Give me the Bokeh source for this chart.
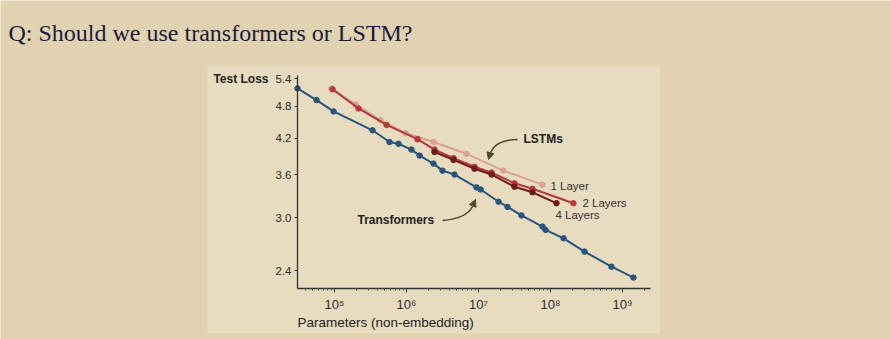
import math
from bokeh.plotting import figure
from bokeh.models import (ColumnDataSource, FixedTicker, Label, BoxAnnotation,
                          Arrow, NormalHead, Range1d)
from bokeh.embed import file_html
from bokeh.resources import INLINE

# ---------------- data ----------------
title_text = "Q: Should we use transformers or LSTM?"
y_label = "Test Loss"
x_label = "Parameters (non-embedding)"

x_tick_values = [1e5, 1e6, 1e7, 1e8, 1e9]
x_tick_labels = ["10\u2075", "10\u2076", "10\u2077", "10\u2078", "10\u2079"]
y_tick_values = [2.4, 3.0, 3.6, 4.2, 4.8, 5.4]
y_tick_labels = ["2.4", "3.0", "3.6", "4.2", "4.8", "5.4"]

transformer_params = [3.06e4, 5.62e4, 9.7e4, 3.37e5, 5.8e5, 7.74e5, 1.17e6, 1.52e6,
                      2.37e6, 3.16e6, 4.64e6, 9.38e6, 1.07e7, 1.90e7, 2.53e7, 3.95e7,
                      7.74e7, 8.53e7, 1.52e8, 2.97e8, 7.03e8, 1.42e9]
transformer_loss = [5.18, 4.93, 4.70, 4.34, 4.13, 4.10, 4.00, 3.90,
                    3.77, 3.66, 3.60, 3.41, 3.38, 3.21, 3.14, 3.03,
                    2.89, 2.85, 2.75, 2.60, 2.44, 2.33]

lstm1_params = [9.1e4, 1.96e5, 4.35e5, 9.7e5, 2.37e6, 6.81e6, 2.22e7, 7.74e7]
lstm1_loss = [5.18, 4.84, 4.53, 4.29, 4.13, 3.93, 3.66, 3.45]

lstm2_params = [9.38e4, 2.15e5, 5.28e5, 1.42e6, 2.45e6, 4.50e6, 8.80e6, 1.52e7,
                3.16e7, 5.62e7, 2.08e8]
lstm2_loss = [5.16, 4.76, 4.44, 4.18, 4.00, 3.86, 3.72, 3.63, 3.47, 3.39, 3.19]

lstm4_params = [2.45e6, 4.50e6, 8.80e6, 1.52e7, 3.16e7, 5.62e7, 1.21e8]
lstm4_loss = [3.96, 3.83, 3.69, 3.60, 3.42, 3.34, 3.19]

series_names = ["Transformers", "1 Layer", "2 Layers", "4 Layers"]

# ---------------- style ----------------
OUTER_BG = "#e1d3b2"
INNER_BG = "#e7dbc0"
BLUE = "#27567c"
PINK = "#d8a297"
RED = "#b5393a"
DARK = "#6c1a1e"
TEXT = "#2a2a2a"
ARROW_C = "#4d4a30"
SANS = "Liberation Sans"

W, H = 891, 339
AL, AR, AT, AB = 297, 650, 75, 288  # axes box in canvas pixels

# data extent of the axes box
x_lo, x_hi = 3.06e4, 2.45e9
y_lo, y_hi = 2.225, 5.47

# extend ranges so that the plotting frame fills the whole canvas
lxlo, lxhi = math.log10(x_lo), math.log10(x_hi)
lylo, lyhi = math.log10(y_lo), math.log10(y_hi)
dpx = (lxhi - lxlo) / (AR - AL)
dpy = (lyhi - lylo) / (AB - AT)
X0, X1 = 10 ** (lxlo - AL * dpx), 10 ** (lxhi + (W - AR) * dpx)
Y0, Y1 = 10 ** (lylo - (H - AB) * dpy), 10 ** (lyhi + AT * dpy)


def to_data(sx, sy):
    """canvas pixel -> data coordinates (for annotation placement)"""
    return 10 ** (lxlo + (sx - AL) * dpx), 10 ** (lylo + (AB - sy) * dpy)


p = figure(width=W, height=H, x_axis_type="log", y_axis_type="log",
           x_range=Range1d(X0, X1), y_range=Range1d(Y0, Y1),
           output_backend="svg", toolbar_location=None, min_border=0)
p.background_fill_color = OUTER_BG
p.border_fill_color = OUTER_BG
p.outline_line_color = None
p.grid.visible = False

# lighter panel behind the chart
bl, bt = to_data(207, 65)
br, bb = to_data(660, 333)
p.add_layout(BoxAnnotation(left=bl, right=br, top=bt, bottom=bb,
                           fill_color=INNER_BG, fill_alpha=1.0, line_color=None,
                           level="underlay"))

# axes, pinned inside the frame
xa = p.xaxis[0]
xa.fixed_location = y_lo
xa.bounds = (x_lo, x_hi)
xa.ticker = FixedTicker(ticks=x_tick_values,
                        minor_ticks=[m * 10 ** e for e in range(4, 10) for m in range(2, 10)
                                     if x_lo < m * 10 ** e < x_hi])
xa.major_label_overrides = {v: l for v, l in zip(x_tick_values, x_tick_labels)}
xa.major_label_text_font = SANS
xa.major_label_text_font_size = "13px"
xa.major_label_text_color = TEXT
xa.major_label_standoff = 4
xa.axis_line_color = "#333333"
xa.axis_line_width = 1.3
xa.major_tick_line_color = "#333333"
xa.major_tick_in = 0
xa.major_tick_out = 4
xa.minor_tick_line_color = "#555555"
xa.minor_tick_in = 0
xa.minor_tick_out = 2

ya = p.yaxis[0]
ya.fixed_location = x_lo
ya.bounds = (y_lo, y_hi)
ya.ticker = FixedTicker(ticks=y_tick_values, minor_ticks=[])
ya.major_label_overrides = {v: l for v, l in zip(y_tick_values, y_tick_labels)}
ya.major_label_text_font = SANS
ya.major_label_text_font_size = "11.5px"
ya.major_label_text_color = TEXT
ya.major_label_standoff = 3
ya.axis_line_color = "#333333"
ya.axis_line_width = 1.3
ya.major_tick_line_color = "#333333"
ya.major_tick_in = 0
ya.major_tick_out = 3
ya.minor_tick_line_color = None

# series
series = [
    (transformer_params, transformer_loss, BLUE),
    (lstm1_params, lstm1_loss, PINK),
    (lstm2_params, lstm2_loss, RED),
    (lstm4_params, lstm4_loss, DARK),
]
for (xs, ys, c), name in zip(series, series_names):
    src = ColumnDataSource(dict(x=xs, y=ys))
    p.line("x", "y", source=src, line_color=c, line_width=2)
    p.scatter("x", "y", source=src, marker="circle", size=5.5,
              fill_color=c, line_color=c)

# series labels next to the LSTM line ends
end_labels = [("1 Layer", lstm1_params[-1], lstm1_loss[-1], 8, -1),
              ("2 Layers", lstm2_params[-1], lstm2_loss[-1], 9, 0),
              ("4 Layers", lstm4_params[-1], lstm4_loss[-1], -1, -12)]
for txt, x, y, dx, dy in end_labels:
    p.add_layout(Label(x=x, y=y, x_offset=dx, y_offset=dy, text=txt,
                       text_font=SANS, text_font_size="11.5px", text_color="#333333",
                       text_baseline="middle", text_align="left"))

# group labels with curved arrows
lx, ly = to_data(523, 138)
p.add_layout(Label(x=lx, y=ly, text="LSTMs", text_font=SANS, text_font_size="12px",
                   text_font_style="bold", text_color="#222222",
                   text_baseline="middle", text_align="left"))
tx, ty = to_data(357, 219)
p.add_layout(Label(x=tx, y=ty, text="Transformers", text_font=SANS, text_font_size="12px",
                   text_font_style="bold", text_color="#222222",
                   text_baseline="middle", text_align="left"))

curves = [((517, 139), (496, 139), (490, 152), (488, 159)),
          ((442, 220), (466, 218), (472, 206), (475, 199))]
for s, c, e, tip in curves:
    x0, y0 = to_data(*s)
    cx, cy = to_data(*c)
    x1, y1 = to_data(*e)
    xt, yt = to_data(*tip)
    p.quadratic(x0=[x0], y0=[y0], cx=[cx], cy=[cy], x1=[x1], y1=[y1],
                line_color=ARROW_C, line_width=1.6)
    p.add_layout(Arrow(x_start=x1, y_start=y1, x_end=xt, y_end=yt,
                       line_color=ARROW_C, line_width=1.6,
                       end=NormalHead(size=7, fill_color=ARROW_C, line_color=ARROW_C)))

# axis titles and slide title
ylx, yly = to_data(268, 78)
p.add_layout(Label(x=ylx, y=yly, text=y_label, text_font=SANS, text_font_size="12px",
                   text_font_style="bold", text_color="#222222",
                   text_baseline="middle", text_align="right"))
xlx, xly = to_data(297, 322)
p.add_layout(Label(x=xlx, y=xly, text=x_label, text_font=SANS, text_font_size="13.5px",
                   text_color="#222222", text_baseline="middle", text_align="left"))
tlx, tly = to_data(8, 32)
p.add_layout(Label(x=tlx, y=tly, text=title_text, text_font="Liberation Serif",
                   text_font_size="24px", text_color="#1c1a3a",
                   text_baseline="alphabetic", text_align="left"))

open("out.html", "w").write(file_html(p, INLINE))
